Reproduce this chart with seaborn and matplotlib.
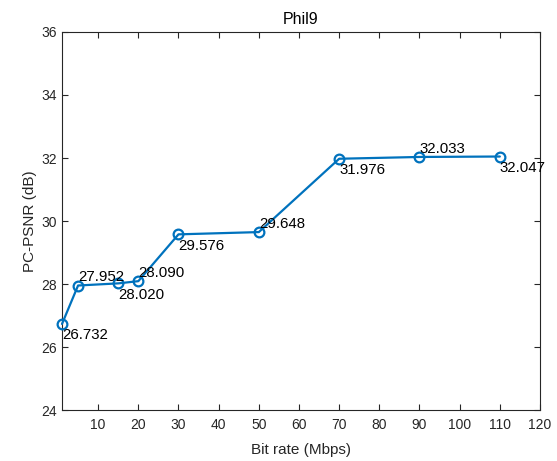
import matplotlib
matplotlib.use("Agg")
import matplotlib.pyplot as plt
import seaborn as sns
import pandas as pd

bit_rate = [1, 5, 15, 20, 30, 50, 70, 90, 110]
psnr = [26.732, 27.952, 28.020, 28.090, 29.576, 29.648, 31.976, 32.033, 32.047]
label_above = [False, True, False, True, False, True, False, True, False]
x_ticks = [10, 20, 30, 40, 50, 60, 70, 80, 90, 100, 110, 120]
y_ticks = [24, 26, 28, 30, 32, 34, 36]

sns.set_style("ticks")
plt.rcParams["font.family"] = ["Liberation Sans", "DejaVu Sans"]
axis_color = "#262626"

df = pd.DataFrame({"Bit rate (Mbps)": bit_rate, "PC-PSNR (dB)": psnr})

fig = plt.figure(figsize=(5.57, 4.61), dpi=100)
ax = fig.add_axes([62 / 557, 1 - 410 / 461, (540 - 62) / 557, (410 - 32) / 461])

sns.lineplot(data=df, x="Bit rate (Mbps)", y="PC-PSNR (dB)", ax=ax,
             color="#0072BD", linewidth=1.6, marker="o", markersize=7,
             markerfacecolor="none", markeredgecolor="#0072BD",
             markeredgewidth=1.6)
for line in ax.get_lines():
    line.set_clip_on(False)
    line.set_zorder(5)

for xv, yv, up in zip(bit_rate, psnr, label_above):
    if up:
        ax.annotate(f"{yv:.3f}", (xv, yv), xytext=(0, 3), textcoords="offset points",
                    ha="left", va="baseline", fontsize=10.8, color="black", zorder=6)
    else:
        ax.annotate(f"{yv:.3f}", (xv, yv), xytext=(0, -3), textcoords="offset points",
                    ha="left", va="top", fontsize=10.8, color="black", zorder=6)

ax.set_xlim(1, 120)
ax.set_ylim(24, 36)
ax.set_xticks(x_ticks)
ax.set_yticks(y_ticks)
ax.tick_params(direction="in", top=True, right=True, length=4, width=0.8,
               colors=axis_color, labelsize=10, labelcolor=axis_color)
ax.tick_params(axis="x", pad=6)
for s in ax.spines.values():
    s.set_visible(True)
    s.set_color(axis_color)
    s.set_linewidth(0.8)

ax.set_xlabel("Bit rate (Mbps)", fontsize=11, color=axis_color, labelpad=8)
ax.set_ylabel("PC-PSNR (dB)", fontsize=11, color=axis_color, labelpad=3)
ax.set_title("Phil9", fontsize=11.5, color="black", pad=6)

fig.savefig("out.png", dpi=100)
